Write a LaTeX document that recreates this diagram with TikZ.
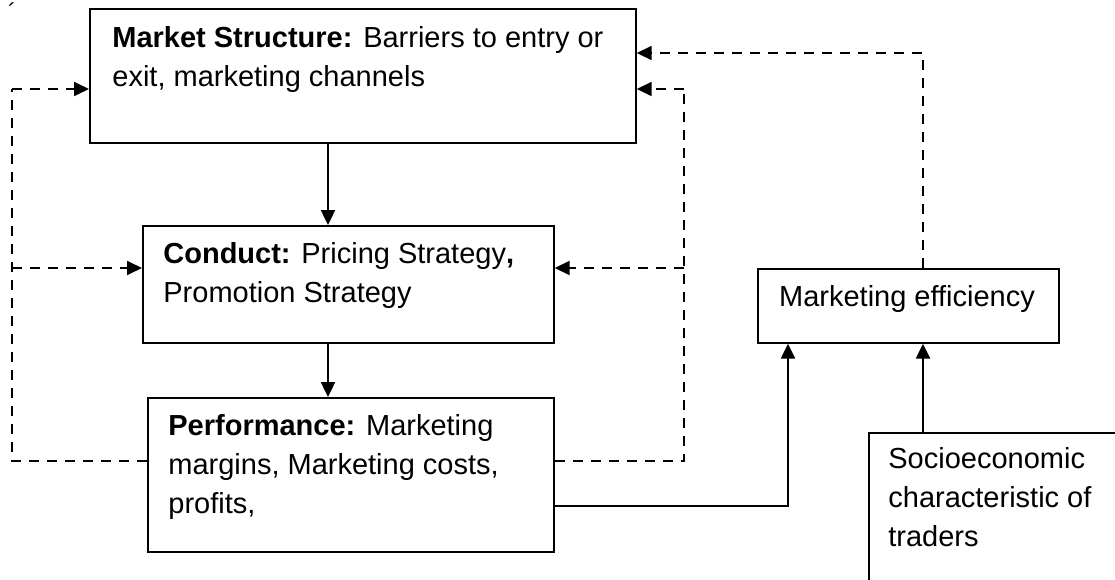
\documentclass[tikz,border=0pt]{standalone}
\usepackage{fontspec}
\setmainfont{Liberation Sans}
\usetikzlibrary{arrows.meta, positioning}
\tikzstyle{block} = [draw, rectangle, line width=0.85pt, inner sep=0pt, anchor=north west]
\tikzstyle{txt} = [inner sep=0pt, align=left, anchor=north west, font=\fontsize{14.5}{19.5}\selectfont]
\tikzstyle{line} = [draw, line width=1.2pt, -{Triangle[length=7.5pt,width=7pt]}]
\tikzstyle{dashline} = [draw, line width=0.9pt, dash pattern=on 5pt off 4pt]
\tikzstyle{dasharrow} = [dashline, -{Triangle[length=7.5pt,width=7pt]}]

\begin{document}
\begin{tikzpicture}[x=0.5pt, y=-0.5pt]
	\useasboundingbox (0,0) rectangle (1115,579);
	\clip (0,0) rectangle (1115,579);

	\node [inner sep=0pt, font=\fontsize{12}{12}\selectfont] (tick) at (12,12) {´};

	\node [block, minimum width=273pt, minimum height=67pt] (structure) at (89,8) {};
	\node [txt] (structuretxt) at (112,26) {\textbf{Market Structure:} Barriers to entry or\\exit, marketing channels};
	\node [block, minimum width=205.5pt, minimum height=58.5pt] (conduct) at (142,225) {};
	\node [txt] (conducttxt) at (163,242) {\textbf{Conduct:} Pricing Strategy\textbf{,}\\Promotion Strategy};
	\node [block, minimum width=203pt, minimum height=77pt] (performance) at (147,397) {};
	\node [txt] (performancetxt) at (168,414) {\textbf{Performance:} Marketing\\margins, Marketing costs,\\profits,};
	\node [block, minimum width=150.5pt, minimum height=37pt] (efficiency) at (757,268) {};
	\node [txt, anchor=north] (efficiencytxt) at (907,285) {Marketing efficiency};
	\node [block, minimum width=200pt, minimum height=150pt] (traders) at (868,432) {};
	\node [txt] (traderstxt) at (888,447) {Socioeconomic\\characteristic of\\traders};

	\coordinate (spine) at (328,0);
	\coordinate (lb) at (12,461);
	\coordinate (lb1) at (12,89);
	\coordinate (lb2) at (12,268);
	\coordinate (rb) at (684,461);
	\coordinate (rb1) at (684,89);
	\coordinate (rb2) at (684,268);
	\coordinate (p1) at (788,506);
	\coordinate (p2) at (923,53);

	\path [line] (structure.south -| spine) -- (conduct.north -| spine);
	\path [line] (conduct.south -| spine) -- (performance.north -| spine);

	\path [dashline] (performance.west |- lb) -- (lb) -- (lb1);
	\path [dasharrow] (lb1) -- (structure.west |- lb1);
	\path [dasharrow] (lb2) -- (conduct.west |- lb2);

	\path [dashline] (performance.east |- rb) -- (rb) -- (rb1);
	\path [dasharrow] (rb1) -- (structure.east |- rb1);
	\path [dasharrow] (rb2) -- (conduct.east |- rb2);

	\path [dasharrow] (efficiency.north -| p2) |- (structure.east |- p2);
	\path [line] (performance.east |- p1) -| (efficiency.south -| p1);
	\path [line] (traders.north -| p2) -- (efficiency.south -| p2);
\end{tikzpicture}
\end{document}
